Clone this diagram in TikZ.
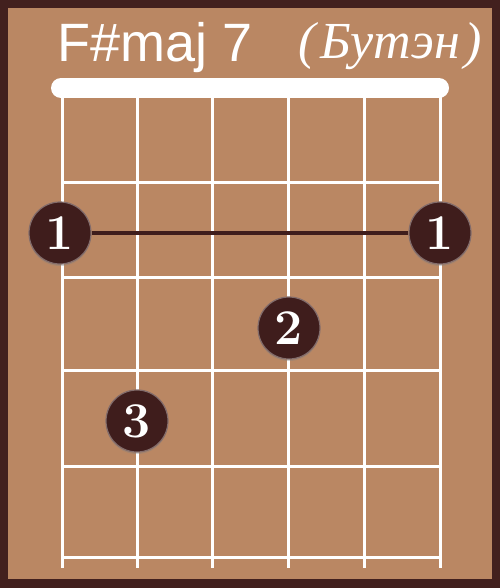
\documentclass[tikz,border=0pt]{standalone}
\usepackage{fontspec}
\usetikzlibrary{shadows}
\newfontfamily\titlefont{Liberation Sans}
\newfontfamily\butenfont{Liberation Serif}
\definecolor{bordercol}{HTML}{42201E}
\definecolor{boardcol}{HTML}{BA8763}
\definecolor{dotcol}{HTML}{3F1D1C}
\tikzset{
  finger/.style={circle, fill=dotcol, draw=dotcol!65!white, line width=1.2pt,
    minimum size=62pt, inner sep=0pt, text=white,
    drop shadow={opacity=0.35, shadow xshift=0pt, shadow yshift=-2pt},
    font=\bfseries\fontsize{50}{50}\selectfont},
  wire/.style={white, line width=3pt},
}
\begin{document}
\begin{tikzpicture}[x=1pt, y=-1pt]
  % Frame
  \useasboundingbox (0,0) rectangle (500,588);
  \fill[bordercol] (0,0) rectangle (500,588);
  \fill[boardcol] (8,8) rectangle (492,579);
  % Title
  \node[anchor=base west, inner sep=0pt, text=white,
    font=\titlefont\fontsize{54}{54}\selectfont] (name) at (57,62) {F\#maj 7};
  \node[anchor=base west, inner sep=0pt, text=white,
    font=\butenfont\itshape\fontsize{52}{52}\selectfont] (buten) at (298,59) {(\kern5ptБутэн\kern5pt)};
  % Nut
  \draw[white, line width=20pt, line cap=round] (61,88) -- (439,88);
  % Strings
  \foreach \x in {62,137,212,288,364,440} \draw[wire] (\x,96) -- (\x,568);
  % Frets
  \foreach \y in {182,277,370,466,557} \draw[wire] (62,\y) -- (440,\y);
  % Fingers
  \node[finger] (f1a) at (60,233) {1};
  \node[finger] (f1b) at (440,233) {1};
  \draw[dotcol, line width=4.5pt] (f1a) -- (f1b);
  \node[finger] (f2) at (289,328) {2};
  \node[finger] (f3) at (137,421) {3};
\end{tikzpicture}
\end{document}
